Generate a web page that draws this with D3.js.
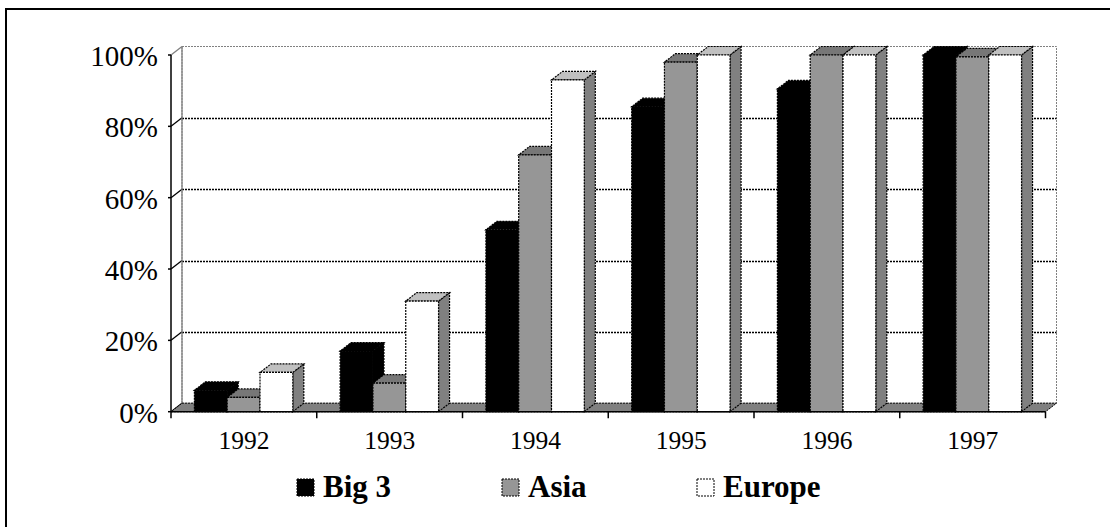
<!DOCTYPE html>
<html>
<head>
<meta charset="utf-8">
<script src="https://cdn.jsdelivr.net/npm/d3@7"></script>
<style>
  html, body { margin: 0; padding: 0; background: #fff; }
  svg { display: block; }
</style>
</head>
<body>
<svg id="chart" width="1110" height="527"></svg>
<script>
// Share of models adopting the feature, by manufacturer group
const years = ["1992", "1993", "1994", "1995", "1996", "1997"];
const seriesNames = ["Big 3", "Asia", "Europe"];
const big3 = [6, 17, 51, 85.5, 90.5, 100];
const asia = [4, 8, 72, 98, 100, 99.5];
const europe = [11, 31, 93, 100, 100, 100];
const yTicks = [0, 20, 40, 60, 80, 100];

const seriesValues = [big3, asia, europe];
// face colours per series: front, top, side
const palette = [
  { front: "#000000", top: "#000000", side: "#000000" },
  { front: "#969696", top: "#777777", side: "#6e6e6e" },
  { front: "#ffffff", top: "#c0c0c0", side: "#808080" }
];

const svg = d3.select("#chart");
const serif = "'Liberation Serif', 'Times New Roman', Times, serif";
const dotted = "2 1";

// plot frame (front plane) and depth offset of the 3-D box
const plotLeft = 171, plotRight = 1045.5, plotBase = 411.7, plotTop = 55;
const dx = 11, dy = 8.5;

const x = d3.scaleBand().domain(years).range([plotLeft, plotRight]).padding(0);
const y = d3.scaleLinear().domain([0, 100]).range([plotBase, plotTop]);
const inner = d3.scaleBand().domain(seriesNames)
  .range([23.4, 23.4 + 98.4]).padding(0);

// outer border
svg.append("rect")
  .attr("x", 6).attr("y", 9).attr("width", 1120).attr("height", 540)
  .attr("fill", "none").attr("stroke", "#000").attr("stroke-width", 2);

const g = svg.append("g");

// back wall
g.append("rect")
  .attr("x", plotLeft + dx).attr("y", y(100) - dy)
  .attr("width", plotRight - plotLeft).attr("height", plotBase - plotTop)
  .attr("fill", "#fff").attr("stroke", "#808080")
  .attr("stroke-dasharray", dotted);

// gridlines on back wall and side wall
yTicks.filter(t => t > 0 && t < 100).forEach(t => {
  const gy = Math.round(y(t) - dy) + 0.5;
  g.append("line")
    .attr("x1", plotLeft + dx).attr("x2", plotRight + dx)
    .attr("y1", gy).attr("y2", gy)
    .attr("stroke", "#000").attr("stroke-width", 1.3)
    .attr("stroke-dasharray", dotted);
});
yTicks.forEach(t => {
  g.append("line")
    .attr("x1", plotLeft).attr("y1", y(t))
    .attr("x2", plotLeft + dx).attr("y2", y(t) - dy)
    .attr("stroke", t === 100 ? "#808080" : "#000").attr("stroke-width", 1.3);
});
// back-left edge of the box
g.append("line")
  .attr("x1", plotLeft + dx).attr("x2", plotLeft + dx)
  .attr("y1", y(100) - dy).attr("y2", y(0) - dy)
  .attr("stroke", "#808080").attr("stroke-width", 1.3);

// floor
g.append("polygon")
  .attr("points", [[plotLeft, plotBase], [plotRight, plotBase], [plotRight + dx, plotBase - dy], [plotLeft + dx, plotBase - dy]].join(" "))
  .attr("fill", "#808080").attr("stroke", "#000").attr("stroke-dasharray", dotted);

// bars: side, top, then front faces, left to right
years.forEach((yr, i) => {
  seriesNames.forEach((s, k) => {
    const v = seriesValues[k][i];
    const x0 = x(yr) + inner(s);
    const x1 = x0 + inner.bandwidth();
    const yt = y(v), yb = y(0);
    const c = palette[k];
    const bar = g.append("g");
    bar.append("polygon")
      .attr("points", [[x1, yb], [x1 + dx, yb - dy], [x1 + dx, yt - dy], [x1, yt]].join(" "))
      .attr("fill", c.side).attr("stroke", "#000").attr("stroke-width", 1.2)
      .attr("stroke-dasharray", dotted);
    bar.append("polygon")
      .attr("points", [[x0, yt], [x1, yt], [x1 + dx, yt - dy], [x0 + dx, yt - dy]].join(" "))
      .attr("fill", c.top).attr("stroke", "#000").attr("stroke-width", 1.2)
      .attr("stroke-dasharray", dotted);
    bar.append("rect")
      .attr("x", x0).attr("y", yt).attr("width", x1 - x0).attr("height", yb - yt)
      .attr("fill", c.front).attr("stroke", "#000").attr("stroke-width", 1.2)
      .attr("stroke-dasharray", dotted);
  });
});

// value axis
g.append("line")
  .attr("x1", plotLeft).attr("x2", plotLeft).attr("y1", y(100)).attr("y2", y(0))
  .attr("stroke", "#000").attr("stroke-width", 1.5);
yTicks.forEach(t => {
  g.append("line")
    .attr("x1", plotLeft - 3).attr("x2", plotLeft).attr("y1", y(t)).attr("y2", y(t))
    .attr("stroke", "#000").attr("stroke-width", 1.5);
  g.append("text")
    .attr("x", 158).attr("y", y(t) + 11)
    .attr("text-anchor", "end")
    .attr("font-family", serif).attr("font-size", 29)
    .text(t + "%");
});

// category axis
g.append("line")
  .attr("x1", plotLeft).attr("x2", plotRight).attr("y1", plotBase).attr("y2", plotBase)
  .attr("stroke", "#000").attr("stroke-width", 1.5);
const bounds = years.map(d => x(d)).concat([plotRight]);
bounds.forEach(bx => {
  g.append("line")
    .attr("x1", bx).attr("x2", bx).attr("y1", plotBase).attr("y2", plotBase + 6.5)
    .attr("stroke", "#000").attr("stroke-width", 1.5);
});
years.forEach(yr => {
  g.append("text")
    .attr("x", x(yr) + x.bandwidth() / 2).attr("y", 449)
    .attr("text-anchor", "middle")
    .attr("font-family", serif).attr("font-size", 25.5)
    .text(yr);
});

// legend
const legendX = [297, 502, 697];
seriesNames.forEach((s, k) => {
  const lg = svg.append("g").attr("transform", `translate(${legendX[k]},479)`);
  lg.append("rect")
    .attr("x", 0).attr("y", 0).attr("width", 17).attr("height", 17)
    .attr("fill", palette[k].front).attr("stroke", "#000").attr("stroke-dasharray", dotted);
  lg.append("text")
    .attr("x", 26).attr("y", 18)
    .attr("font-family", serif).attr("font-size", 31).attr("font-weight", "bold")
    .text(s);
});
</script>
</body>
</html>
